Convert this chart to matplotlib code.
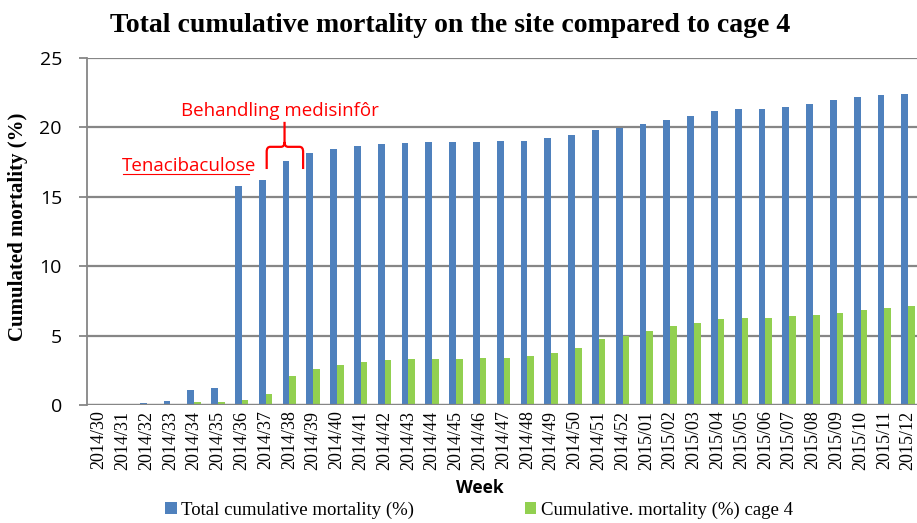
import numpy as np
import matplotlib
matplotlib.use("Agg")
import matplotlib.pyplot as plt
from matplotlib.path import Path
from matplotlib.patches import PathPatch

# Week labels
weeks = ["2014/30", "2014/31", "2014/32", "2014/33", "2014/34", "2014/35",
         "2014/36", "2014/37", "2014/38", "2014/39", "2014/40", "2014/41",
         "2014/42", "2014/43", "2014/44", "2014/45", "2014/46", "2014/47",
         "2014/48", "2014/49", "2014/50", "2014/51", "2014/52",
         "2015/01", "2015/02", "2015/03", "2015/04", "2015/05", "2015/06",
         "2015/07", "2015/08", "2015/09", "2015/10", "2015/11", "2015/12"]

# Total cumulative mortality (%) on the site
total = [0.1, 0.1, 0.13, 0.26, 1.08, 1.25,
         15.81, 16.2, 17.61, 18.14, 18.45, 18.67,
         18.8, 18.9, 18.92, 18.97, 18.97, 19.02,
         19.04, 19.21, 19.47, 19.83, 19.98,
         20.26, 20.53, 20.79, 21.17, 21.29, 21.32,
         21.49, 21.71, 21.99, 22.2, 22.32, 22.42]

# Cumulative mortality (%) cage 4
cage4 = [0.0, 0.0, 0.0, 0.1, 0.22, 0.24,
         0.36, 0.77, 2.09, 2.59, 2.88, 3.07,
         3.21, 3.28, 3.31, 3.35, 3.4, 3.42,
         3.5, 3.76, 4.12, 4.77, 4.96,
         5.32, 5.7, 5.92, 6.23, 6.28, 6.3,
         6.4, 6.49, 6.63, 6.85, 7.0, 7.11]

blue = "#4F81BD"
green = "#92D050"
grid_col = "#868686"
serif = "Liberation Serif"
sans = "Open Sans"

W, H = 917, 523
fig = plt.figure(figsize=(W / 100, H / 100), dpi=100)
ax = fig.add_axes([87 / W, (H - 405) / H, 833 / W, 347 / H])

x = np.arange(len(weeks))
bw = 0.28
ax.bar(x - bw / 2, total, bw, color=blue, label="Total cumulative mortality (%)", zorder=3)
ax.bar(x + bw / 2, cage4, bw, color=green, label="Cumulative. mortality (%) cage 4", zorder=3)

ax.set_xlim(-0.5, len(weeks) - 0.5)
ax.set_ylim(0, 25)
ax.set_yticks(range(0, 26, 5))
ax.yaxis.grid(True, color=grid_col, linewidth=1.6, zorder=0)
ax.set_axisbelow(True)
for s in ["top", "right", "bottom"]:
    ax.spines[s].set_visible(False)
ax.spines["left"].set_color(grid_col)
ax.spines["left"].set_linewidth(1.3)
ax.axhline(0, color=grid_col, linewidth=1.6, zorder=4)

ax.set_xticks(x)
ax.set_xticklabels(weeks, rotation=90, fontsize=13, family=serif)
ax.tick_params(axis="x", length=0, pad=4)
ax.tick_params(axis="y", length=6, width=1.3, color=grid_col, pad=12,
               labelsize=14)
for lab in ax.get_yticklabels():
    lab.set_family(sans)

# Titles and axis labels
fig.text(450 / W, 1 - 25 / H, "Total cumulative mortality on the site compared to cage 4",
         ha="center", va="center", fontsize=20, fontweight="bold", family=serif)
fig.text(18 / W, 1 - 227 / H, "Cumulated mortality (%)", rotation=90,
         ha="center", va="center", fontsize=15, fontweight="bold", family=serif)
fig.text(480 / W, 1 - 488 / H, "Week", ha="center", va="center",
         fontsize=12.5, fontweight="bold", family=sans)

fig.legend(loc="center", bbox_to_anchor=(479 / W, 13 / H), ncol=2, frameon=False,
           prop={"family": serif, "size": 13.5}, handlelength=0.62,
           handleheight=0.62, handletextpad=0.25, columnspacing=5.9,
           borderpad=0, borderaxespad=0)

# Annotations
red = "#FF0000"
ax.text(3.78, 17.2, "Tenacibaculose", color=red, fontsize=13.5, family=sans,
        ha="center", va="center")
ax.plot([1.0, 6.3], [16.65, 16.65], color=red, linewidth=0.8)
ax.text(7.6, 21.2, "Behandling medisinfôr", color=red, fontsize=13.5, family=sans,
        ha="center", va="center")

xl, xm, xr = 7.05, 7.8, 8.58
yb, ym, yt = 17.0, 18.6, 20.4
dx, dy = 0.15, 0.35
verts = [(xl, yb), (xl, ym - dy), (xl, ym), (xl + dx, ym), (xm - dx, ym),
         (xm, ym), (xm, ym + dy), (xm, yt),
         (xm, ym + dy), (xm, ym), (xm + dx, ym), (xr - dx, ym),
         (xr, ym), (xr, ym - dy), (xr, yb)]
codes = [Path.MOVETO, Path.LINETO, Path.CURVE3, Path.CURVE3, Path.LINETO,
         Path.CURVE3, Path.CURVE3, Path.LINETO,
         Path.MOVETO, Path.CURVE3, Path.CURVE3, Path.LINETO,
         Path.CURVE3, Path.CURVE3, Path.LINETO]
ax.add_patch(PathPatch(Path(verts, codes), fill=False, edgecolor=red,
                       linewidth=1.6, zorder=5))

fig.savefig("out.png", dpi=100)
